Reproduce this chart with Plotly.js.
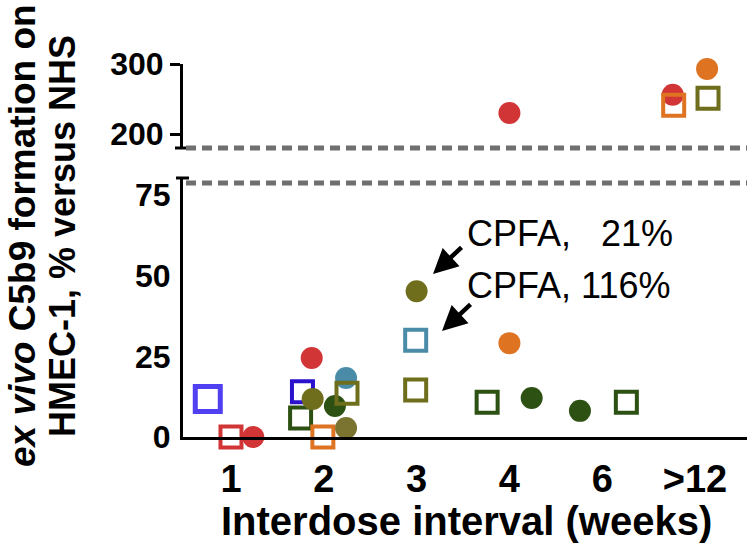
<!DOCTYPE html>
<html><head><meta charset="utf-8">
<script src="https://cdn.plot.ly/plotly-3.0.1.min.js"></script>
<style>body{margin:0;background:#fff}</style>
</head><body><div id="chart" style="width:747px;height:545px"></div>
<script>
// Categories on the x axis (interdose interval, weeks)
const categories = ['1', '2', '3', '4', '6', '>12'];
const lowerTicks = [0, 25, 50, 75];
const upperTicks = [200, 300];

// Each series: x = category index (0-based) with the horizontal scatter, y = value (%)
const lightBlueSqX = [-0.25];            const lightBlueSqY = [11.8];
const darkBlueSqX  = [0.77];             const darkBlueSqY  = [14.0];
const redSqX       = [0.0];              const redSqY       = [0];
const redCircX     = [0.24, 0.87];       const redCircY     = [0, 24.5];
const redCircHiX   = [3.0, 4.76];        const redCircHiY   = [230, 256];
const greenSqX     = [0.75, 2.76, 4.26]; const greenSqY     = [5.9, 10.8, 10.8];
const greenCircX   = [1.12, 3.24, 3.76]; const greenCircY   = [9.6, 12.1, 8.1];
const oliveSqX     = [1.25, 1.99];       const oliveSqY     = [13.6, 14.6];
const oliveSqHiX   = [5.14];             const oliveSqHiY   = [251];
const oliveCircX   = [0.88, 2.0];        const oliveCircY   = [11.8, 45.2];
const brownCircX   = [1.24];             const brownCircY   = [2.8];
const orangeSqX    = [0.99];             const orangeSqY    = [0];
const orangeSqHiX  = [4.77];             const orangeSqHiY  = [241];
const orangeCircX  = [3.0];              const orangeCircY  = [29.1];
const orangeCircHiX= [5.13];             const orangeCircHiY= [293];
const tealSqX      = [1.99];             const tealSqY      = [30.0];
const tealCircX    = [1.24];             const tealCircY    = [18.3];

const FONT = 'Liberation Sans, Arial, sans-serif';
function sq(x, y, color, yaxis, size, lw) {
  return {x: x, y: y, type: 'scatter', mode: 'markers', yaxis: yaxis, cliponaxis: false, hoverinfo: 'skip',
    marker: {symbol: 'square-open', size: size || 21, color: color, line: {width: lw || 4, color: color}}};
}
function circ(x, y, color, yaxis) {
  return {x: x, y: y, type: 'scatter', mode: 'markers', yaxis: yaxis, cliponaxis: false, hoverinfo: 'skip',
    marker: {symbol: 'circle', size: 22, color: color, line: {width: 0}}};
}
const RED = '#d23535', GREEN = '#2d5013', OLIVE = '#6e6e1c', BROWN = '#7b7430', ORANGE = '#de7322',
      TEAL = '#4a8ca8', LBLUE = '#5040f2', DBLUE = '#2b12cc';

const traces = [
  sq(lightBlueSqX, lightBlueSqY, LBLUE, 'y', 25, 5),
  sq(redSqX, redSqY, RED, 'y'),
  circ(redCircX, redCircY, RED, 'y'),
  sq(greenSqX, greenSqY, GREEN, 'y'),
  sq(darkBlueSqX, darkBlueSqY, DBLUE, 'y'),
  sq(orangeSqX, orangeSqY, ORANGE, 'y'),
  circ(tealCircX, tealCircY, TEAL, 'y'),
  circ(greenCircX, greenCircY, GREEN, 'y'),
  circ(oliveCircX, oliveCircY, OLIVE, 'y'),
  sq(oliveSqX, oliveSqY, OLIVE, 'y'),
  circ(brownCircX, brownCircY, BROWN, 'y'),
  sq(tealSqX, tealSqY, TEAL, 'y'),
  circ(orangeCircX, orangeCircY, ORANGE, 'y'),
  circ(redCircHiX, redCircHiY, RED, 'y2'),
  sq(orangeSqHiX, orangeSqHiY, ORANGE, 'y2'),
  circ(orangeCircHiX, orangeCircHiY, ORANGE, 'y2'),
  sq(oliveSqHiX, oliveSqHiY, OLIVE, 'y2')
];

// pixel helpers for decorations (plot area: x 183..747, y 64..437)
const L = 183, R = 747, T = 64, B = 437;
const px = v => (v - L) / (R - L);
const py = v => (B - v) / (B - T);

const dash = {color: '#6f6f6f', width: 5, dash: '10px,6px'};
const layout = {
  width: 747, height: 545,
  margin: {l: L, r: 747 - R, t: T, b: 545 - B},
  paper_bgcolor: '#fff', plot_bgcolor: 'rgba(0,0,0,0)',
  showlegend: false,
  font: {family: FONT, color: '#000'},
  xaxis: {range: [-0.517, 5.56], tickvals: [0, 1, 2, 3, 4, 5], ticktext: categories,
    showline: true, linewidth: 3, linecolor: '#000', ticks: '', showgrid: false, zeroline: false,
    ticklabelstandoff: 6, tickfont: {family: FONT, size: 38, weight: 'bold', color: '#000'}, anchor: 'y'},
  yaxis: {domain: [0, py(178)], range: [0, 80.3], tickvals: lowerTicks,
    showline: true, linewidth: 3, linecolor: '#000', ticks: '', showgrid: false, zeroline: false,
    ticklabelstandoff: 3, tickfont: {family: FONT, size: 32, weight: 'bold', color: '#000'}},
  yaxis2: {domain: [py(148), 1], range: [180, 300], tickvals: upperTicks, anchor: 'x',
    showline: true, linewidth: 3, linecolor: '#000', ticks: 'outside', ticklen: 10, tickwidth: 3, tickcolor: '#000',
    showgrid: false, zeroline: false,
    tickfont: {family: FONT, size: 32, weight: 'bold', color: '#000'}},
  shapes: [
    Object.assign({type: 'line', xref: 'paper', yref: 'paper', x0: px(186), x1: 1, y0: py(148), y1: py(148)}, {line: dash}),
    Object.assign({type: 'line', xref: 'paper', yref: 'paper', x0: px(186), x1: 1, y0: py(183), y1: py(183)}, {line: dash}),
    {type: 'line', xref: 'paper', yref: 'paper', x0: px(175), x1: px(186), y0: py(148), y1: py(148), line: {color: '#000', width: 3}},
    {type: 'line', xref: 'paper', yref: 'paper', x0: px(176), x1: px(189), y0: py(178), y1: py(178), line: {color: '#000', width: 3}}
  ],
  annotations: [
    {xref: 'paper', yref: 'paper', x: px(22), y: py(236), text: '<b><i>ex vivo</i> C5b9 formation on</b>', textangle: -90,
      showarrow: false, font: {family: FONT, size: 37, color: '#000'}, xanchor: 'center', yanchor: 'middle'},
    {xref: 'paper', yref: 'paper', x: px(62), y: py(236), text: '<b>HMEC-1, % versus NHS</b>', textangle: -90,
      showarrow: false, font: {family: FONT, size: 36, color: '#000'}, xanchor: 'center', yanchor: 'middle'},
    {xref: 'paper', yref: 'paper', x: px(466), y: py(521), text: '<b>Interdose interval (weeks)</b>',
      showarrow: false, font: {family: FONT, size: 40, color: '#000'}, xanchor: 'center', yanchor: 'middle'},
    {xref: 'paper', yref: 'paper', x: px(465), y: py(233), text: 'CPFA,\u00a0\u00a0\u00a021%',
      showarrow: false, font: {family: FONT, size: 36, color: '#000'}, xanchor: 'left', yanchor: 'middle'},
    {xref: 'paper', yref: 'paper', x: px(465), y: py(285), text: 'CPFA, 116%',
      showarrow: false, font: {family: FONT, size: 36, color: '#000'}, xanchor: 'left', yanchor: 'middle'},
    {xref: 'paper', yref: 'paper', x: px(433), y: py(274), text: '', showarrow: true, ax: 30, ay: -28,
      arrowhead: 2, arrowsize: 1.1, arrowwidth: 4.5, arrowcolor: '#000'},
    {xref: 'paper', yref: 'paper', x: px(442), y: py(331), text: '', showarrow: true, ax: 30, ay: -28,
      arrowhead: 2, arrowsize: 1.1, arrowwidth: 4.5, arrowcolor: '#000'}
  ]
};
Plotly.newPlot('chart', traces, layout, {staticPlot: true, displayModeBar: false});
</script></body></html>
